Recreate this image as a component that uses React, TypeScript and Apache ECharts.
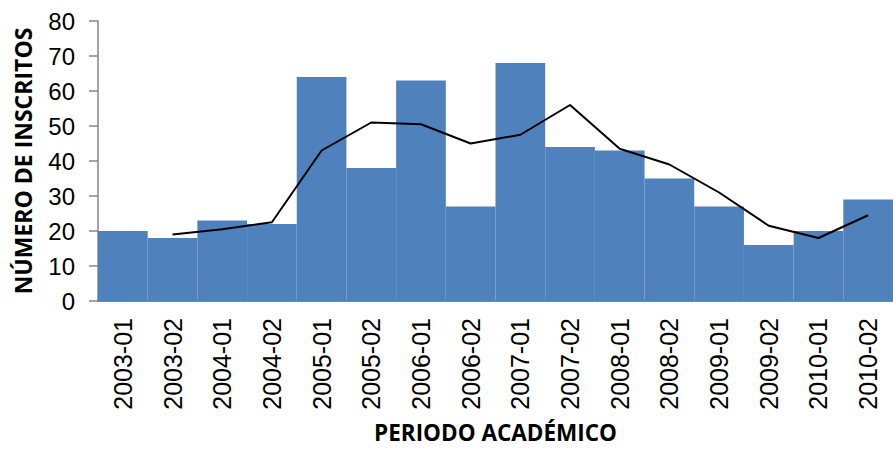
import React, { useEffect, useRef } from "react";
import * as echarts from "echarts";

const categories = [
  "2003-01", "2003-02", "2004-01", "2004-02", "2005-01", "2005-02",
  "2006-01", "2006-02", "2007-01", "2007-02", "2008-01", "2008-02",
  "2009-01", "2009-02", "2010-01", "2010-02",
];
const inscritos = [20, 18, 23, 22, 64, 38, 63, 27, 68, 44, 43, 35, 27, 16, 20, 29];
const mediaMovil = [null, 19, 20.5, 22.5, 43, 51, 50.5, 45, 47.5, 56, 43.5, 39, 31, 21.5, 18, 24.5];
const yTicks = { min: 0, max: 80, interval: 10 };

export default function App() {
  const ref = useRef<HTMLDivElement>(null);
  useEffect(() => {
    document.body.style.margin = "0";
    const chart = echarts.init(ref.current!, null, { renderer: "svg" });
    chart.setOption({
      animation: false,
      grid: { left: 98, right: 0, top: 21, bottom: 144, containLabel: false },
      xAxis: {
        type: "category",
        data: categories,
        name: "PERIODO ACADÉMICO",
        nameLocation: "middle",
        nameGap: 120,
        nameTextStyle: { fontFamily: "Open Sans", fontWeight: "bold", fontSize: 22.5, color: "#000", verticalAlign: "top" },
        axisLine: { lineStyle: { color: "#868686", width: 2 } },
        axisTick: { show: false },
        axisLabel: { rotate: 90, fontFamily: "Liberation Sans", fontSize: 25, color: "#000", margin: 17 },
      },
      yAxis: {
        type: "value",
        min: yTicks.min,
        max: yTicks.max,
        interval: yTicks.interval,
        name: "NÚMERO DE INSCRITOS",
        nameLocation: "middle",
        nameGap: 64,
        nameRotate: 90,
        nameTextStyle: { fontFamily: "Open Sans", fontWeight: "bold", fontSize: 23, color: "#000" },
        axisLine: { show: true, lineStyle: { color: "#868686", width: 1.5 } },
        axisTick: { show: true, length: 9, lineStyle: { color: "#868686", width: 1.5 } },
        splitLine: { show: false },
        axisLabel: { fontFamily: "Liberation Sans", fontSize: 24, color: "#000", margin: 23 },
      },
      series: [
        {
          type: "bar",
          data: inscritos,
          barCategoryGap: "0%",
          itemStyle: { color: "#4F81BD" },
        },
        {
          type: "line",
          data: mediaMovil,
          showSymbol: false,
          symbol: "none",
          lineStyle: { color: "#000", width: 2 },
          connectNulls: false,
        },
      ],
    });
    return () => chart.dispose();
  }, []);
  return <div ref={ref} style={{ width: 893, height: 449 }} />;
}
